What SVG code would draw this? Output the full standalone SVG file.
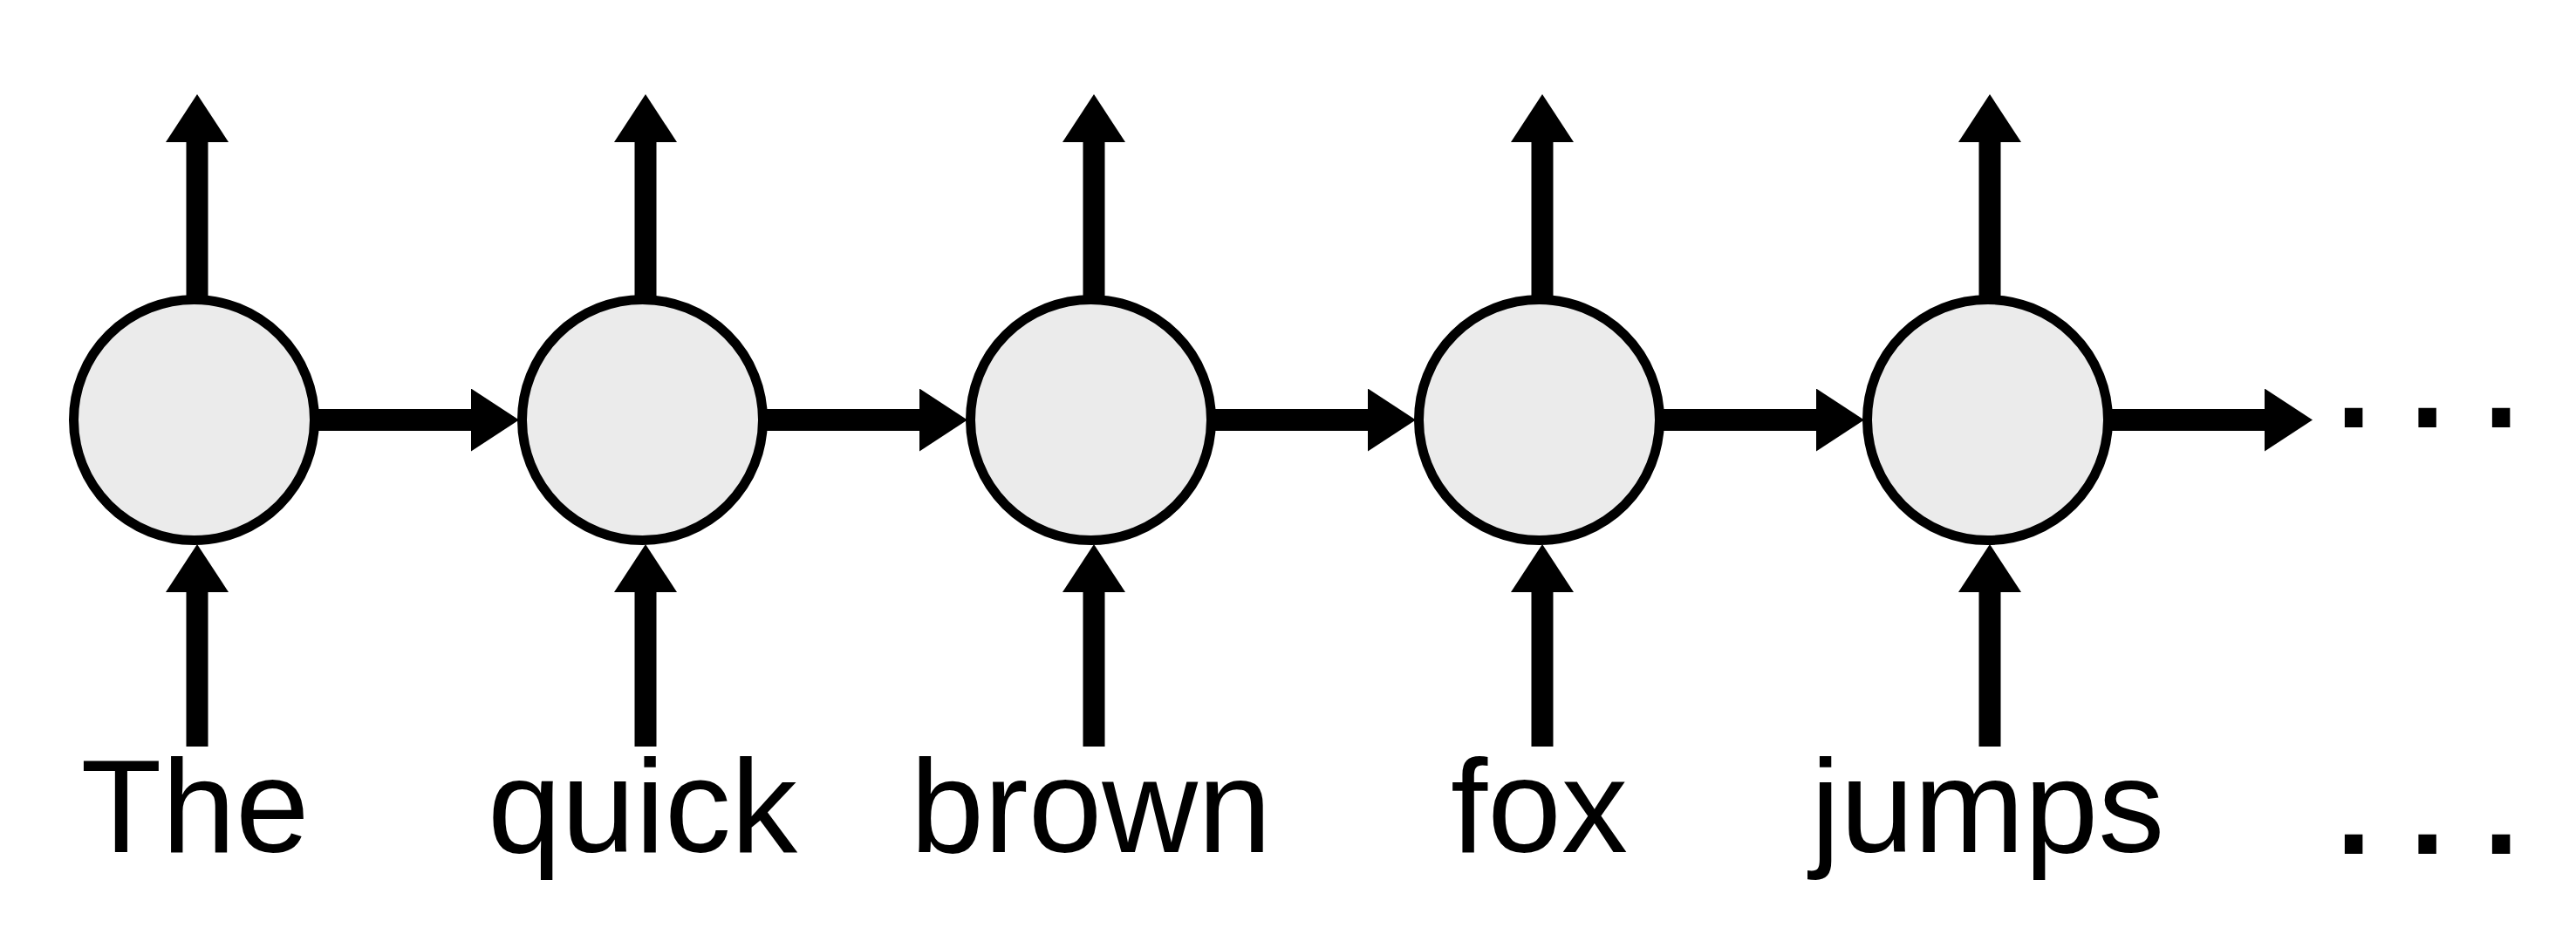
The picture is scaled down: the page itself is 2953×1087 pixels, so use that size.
<svg xmlns="http://www.w3.org/2000/svg" width="2953" height="1087" viewBox="0 0 2953 1087">
  <style>
    .node { fill: #ebebeb; stroke: #000; stroke-width: 11; }
    .edge { stroke: #000; stroke-width: 25; fill: none; stroke-linecap: butt; }
    .label { font-family: "Liberation Sans", Arial, sans-serif; font-size: 152px; fill: #000; }
    .dots { stroke: #000; stroke-width: 6; stroke-linejoin: miter; }
  </style>
  <defs>
    <marker id="ah" markerUnits="userSpaceOnUse" markerWidth="55" markerHeight="72" refX="0" refY="36" orient="auto" viewBox="0 0 55 72">
      <path d="M0,0 L55,36 L0,72 Z" fill="#000"/>
    </marker>
  </defs>
  <rect width="2953" height="1087" fill="#fff"/>
  <g id="connectors">
    <line class="edge" x1="360" y1="481.5" x2="540" y2="481.5" marker-end="url(#ah)"/>
    <line class="edge" x1="874" y1="481.5" x2="1054" y2="481.5" marker-end="url(#ah)"/>
    <line class="edge" x1="1388" y1="481.5" x2="1568" y2="481.5" marker-end="url(#ah)"/>
    <line class="edge" x1="1902" y1="481.5" x2="2082" y2="481.5" marker-end="url(#ah)"/>
    <line class="edge" x1="2416" y1="481.5" x2="2596" y2="481.5" marker-end="url(#ah)"/>
    <line class="edge" x1="226" y1="345" x2="226" y2="163" marker-end="url(#ah)"/>
    <line class="edge" x1="740" y1="345" x2="740" y2="163" marker-end="url(#ah)"/>
    <line class="edge" x1="1254" y1="345" x2="1254" y2="163" marker-end="url(#ah)"/>
    <line class="edge" x1="1768" y1="345" x2="1768" y2="163" marker-end="url(#ah)"/>
    <line class="edge" x1="2281" y1="345" x2="2281" y2="163" marker-end="url(#ah)"/>
    <line class="edge" x1="226" y1="856" x2="226" y2="679" marker-end="url(#ah)"/>
    <line class="edge" x1="740" y1="856" x2="740" y2="679" marker-end="url(#ah)"/>
    <line class="edge" x1="1254" y1="856" x2="1254" y2="679" marker-end="url(#ah)"/>
    <line class="edge" x1="1768" y1="856" x2="1768" y2="679" marker-end="url(#ah)"/>
    <line class="edge" x1="2281" y1="856" x2="2281" y2="679" marker-end="url(#ah)"/>
  </g>
  <g id="node-the"><circle class="node" cx="222.5" cy="481.5" r="138"/><text class="label" x="223.5" y="977" text-anchor="middle">The</text></g>
  <g id="node-quick"><circle class="node" cx="736.5" cy="481.5" r="138"/><text class="label" x="736.5" y="977" text-anchor="middle">quick</text></g>
  <g id="node-brown"><circle class="node" cx="1250.5" cy="481.5" r="138"/><text class="label" x="1250.5" y="977" text-anchor="middle">brown</text></g>
  <g id="node-fox"><circle class="node" cx="1764.5" cy="481.5" r="138"/><text class="label" x="1764.5" y="977" text-anchor="middle">fox</text></g>
  <g id="node-jumps"><circle class="node" cx="2278.5" cy="481.5" r="138"/><text class="label" x="2278.5" y="977" text-anchor="middle">jumps</text></g>
  <g id="ellipsis">
    <text class="label dots" x="2677" y="487">. . .</text>
    <text class="label dots" x="2677" y="976">. . .</text>
  </g>
</svg>
